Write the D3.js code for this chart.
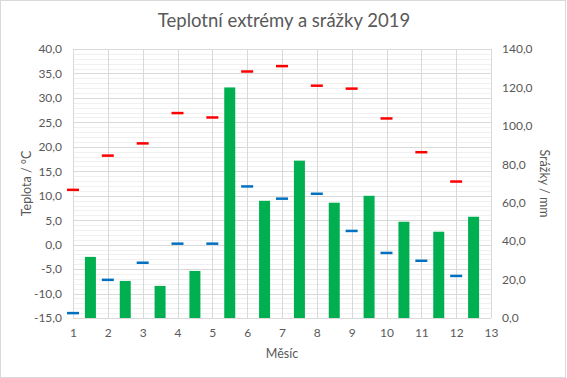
<!DOCTYPE html>
<html>
<head>
<meta charset="utf-8">
<script src="https://cdn.jsdelivr.net/npm/d3@7"></script>
<style>
  body { margin: 0; background: #fff; }
  text { font-family: Lato, "Open Sans", "Liberation Sans", sans-serif; fill: #595959; }
</style>
</head>
<body>
<svg id="chart" width="567" height="378"></svg>
<script>
const months = [1, 2, 3, 4, 5, 6, 7, 8, 9, 10, 11, 12];
const tMax = [11.2, 18.2, 20.7, 26.9, 26.0, 35.4, 36.5, 32.5, 31.9, 25.8, 18.9, 12.9];
const tMin = [-14.0, -7.2, -3.7, 0.2, 0.2, 11.9, 9.4, 10.4, 2.8, -1.7, -3.3, -6.4];
const precip = [31.8, 19.3, 16.7, 24.5, 120.0, 61.0, 81.9, 60.0, 63.6, 50.1, 44.9, 52.7];
const xTicks = [1, 2, 3, 4, 5, 6, 7, 8, 9, 10, 11, 12, 13];
const tTicks = [-15, -10, -5, 0, 5, 10, 15, 20, 25, 30, 35, 40];
const pTicks = [0, 20, 40, 60, 80, 100, 120, 140];

const svg = d3.select("#chart");
const W = 567, H = 378;
const L = 73, R = 491, T = 49, B = 318;

svg.append("rect").attr("x", 0.5).attr("y", 0.5).attr("width", W - 2).attr("height", H - 1)
  .attr("fill", "#fff").attr("stroke", "#d9d9d9");

const x = d3.scaleLinear().domain([1, 13]).range([L, R]);
const yT = d3.scaleLinear().domain([-15, 40]).range([B, T]);
const yP = d3.scaleLinear().domain([0, 140]).range([B, T]);
const fmt = v => d3.format(".1f")(v).replace(".", ",").replace("−", "-");

// minor gridlines
const minor = d3.range(-15, 40.001, 1).filter(v => v % 5 !== 0);
svg.append("g").selectAll("line").data(minor).join("line")
  .attr("x1", L).attr("x2", R)
  .attr("y1", d => Math.round(yT(d)) + 0.5).attr("y2", d => Math.round(yT(d)) + 0.5)
  .attr("stroke", "#f0f0f0").attr("stroke-width", 1);
// major gridlines
svg.append("g").selectAll("line").data(tTicks).join("line")
  .attr("x1", L).attr("x2", R)
  .attr("y1", d => Math.round(yT(d)) + 0.5).attr("y2", d => Math.round(yT(d)) + 0.5)
  .attr("stroke", "#d9d9d9").attr("stroke-width", 1);
// vertical gridlines
svg.append("g").selectAll("line").data(xTicks).join("line")
  .attr("y1", T).attr("y2", B)
  .attr("x1", d => Math.round(x(d)) + 0.5).attr("x2", d => Math.round(x(d)) + 0.5)
  .attr("stroke", "#d9d9d9").attr("stroke-width", 1);

// axes (text only)
const gl = svg.append("g").attr("transform", `translate(${L - 11},0)`)
  .call(d3.axisLeft(yT).tickValues(tTicks).tickFormat(fmt).tickSize(0));
const gr = svg.append("g").attr("transform", `translate(${R + 11},0)`)
  .call(d3.axisRight(yP).tickValues(pTicks).tickFormat(fmt).tickSize(0));
const gb = svg.append("g").attr("transform", `translate(0,${B + 7})`)
  .call(d3.axisBottom(x).tickValues(xTicks).tickFormat(d3.format("d")).tickSize(0));
[gl, gr, gb].forEach(g => {
  g.select(".domain").remove();
  g.selectAll("text").attr("font-size", 12).attr("fill", "#595959")
    .attr("font-family", "Lato, 'Open Sans', sans-serif");
});
gl.selectAll("text").attr("x", 0);
gr.selectAll("text").attr("x", 0);

// bars
const bw = 11;
svg.append("g").selectAll("rect").data(precip).join("rect")
  .attr("x", (d, i) => x(months[i] + 0.5) - bw / 2)
  .attr("width", bw)
  .attr("y", d => yP(d))
  .attr("height", d => yP(0) - yP(d))
  .attr("fill", "#00b050");

// dashes
const dw = 12;
svg.append("g").selectAll("line").data(tMax).join("line")
  .attr("x1", (d, i) => x(months[i]) - dw / 2).attr("x2", (d, i) => x(months[i]) + dw / 2)
  .attr("y1", d => yT(d)).attr("y2", d => yT(d))
  .attr("stroke", "#ff0000").attr("stroke-width", 2.5);
svg.append("g").selectAll("line").data(tMin).join("line")
  .attr("x1", (d, i) => x(months[i]) - dw / 2).attr("x2", (d, i) => x(months[i]) + dw / 2)
  .attr("y1", d => yT(d)).attr("y2", d => yT(d))
  .attr("stroke", "#0070c0").attr("stroke-width", 2.5);

// titles
svg.append("text").attr("x", 284).attr("y", 27).attr("text-anchor", "middle")
  .attr("font-size", 18.5).text("Teplotní extrémy a srážky 2019");
svg.append("text").attr("transform", `translate(31,${(T + B) / 2}) rotate(-90)`)
  .attr("text-anchor", "middle").attr("font-size", 12.5).text("Teplota / °C");
svg.append("text").attr("transform", `translate(540,${(T + B) / 2}) rotate(90)`)
  .attr("text-anchor", "middle").attr("font-size", 12.5).text("Srážky / mm");
svg.append("text").attr("x", (L + R) / 2).attr("y", 358).attr("text-anchor", "middle")
  .attr("font-size", 12.5).text("Měsíc");
</script>
</body>
</html>
